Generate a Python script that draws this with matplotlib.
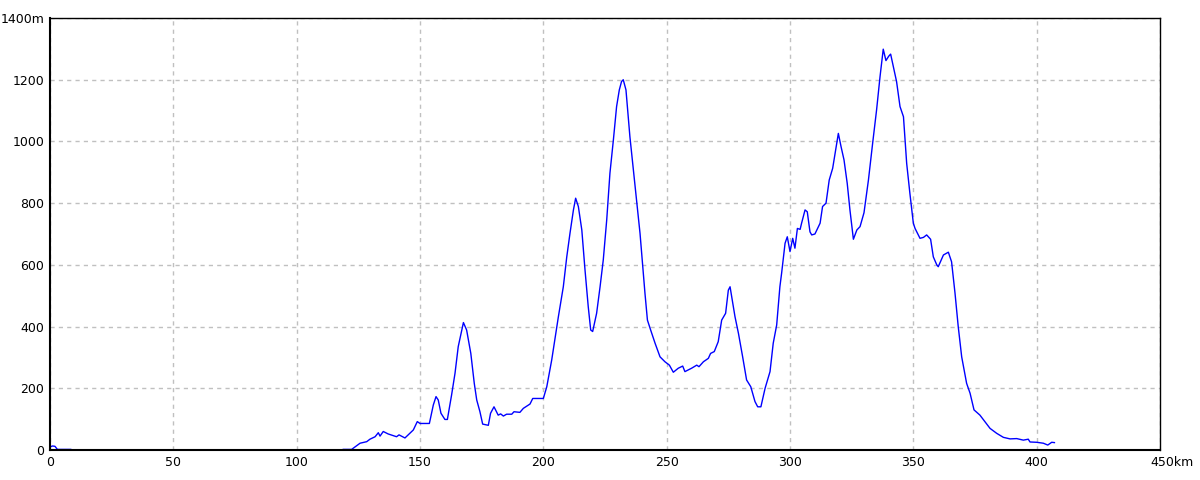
import numpy as np
import matplotlib
matplotlib.use("Agg")
import matplotlib.pyplot as plt
import matplotlib.transforms as mtransforms

# distance (km) and elevation (m); nan = no data
km = [0, 1, 2, 3, 8.4, 8.5,
      118.9, 122.3, 125.7, 128.4, 129.7, 131.8, 133.1, 133.8, 135.1, 137.1,
      140.5, 141.5, 143.9, 147.3, 148.9, 150, 153.8, 155.4, 156.5, 157.4,
      158.5, 160.1, 161.1, 162.8, 164.2, 165.5, 167.6, 168.9, 170.6, 172,
      173, 174.3, 175.4, 177.7, 178.6, 180, 181.7, 182.7, 183.8, 185.1,
      187.2, 188.1, 190.5, 191.9, 194.6, 195.7, 200, 201.4, 203.4, 206.1,
      208.1, 209.5, 210.8, 212.2, 213.1, 214.2, 215.6, 216.9, 218.2, 219.2,
      220, 221.6, 223, 224.3, 225.7, 227, 228.4, 229.7, 230.8, 231.7,
      232.4, 233.5, 235.1, 236.5, 237.8, 239.2, 240.3, 241.2, 242.2, 243.5,
      245.3, 247.3, 249.3, 251.1, 252.7, 254.7, 256.5, 257.4, 260.1, 262.2,
      263.1, 264.9, 266.9, 267.8, 269.3, 270.9, 272.3, 273.9, 275, 275.7,
      276.8, 277.7, 279.1, 280.8, 282.4, 284.1, 285.8, 286.9, 288.2, 289.9,
      291.9, 293.2, 294.6, 295.9, 296.6, 298, 298.9, 300, 301.1, 302,
      303, 304.1, 304.7, 306.1, 307, 308.1, 308.8, 310.1, 312.2, 313.2,
      314.6, 315.9, 317.3, 318.5, 319.6, 320.7, 321.9, 323.2, 324.3, 325.7,
      327.1, 328.4, 330, 331.8, 333.5, 335.1, 336.5, 337.8, 338.9, 340,
      340.8, 341.9, 343.2, 344.6, 346, 347.3, 348.6, 350, 350.7, 352.7,
      354.1, 355.4, 357, 358.1, 359.5, 360.1, 362.2, 364.2, 365.5, 366.9,
      368.2, 369.6, 371.6, 373, 374.6, 377, 379, 381.1, 383.8, 386.5,
      389.2, 391.9, 394.6, 396.6, 397.3, 400, 402.7, 404.5, 406.1, 407.2]
elev = [10, 13, 12, 2, 2, np.nan,
        2, 2, 22, 27, 35, 43, 56, 45, 60, 52,
        43, 49, 39, 65, 92, 86, 86, 146, 173, 162,
        119, 99, 99, 178, 249, 335, 413, 389, 313, 216,
        162, 124, 84, 80, 119, 140, 113, 117, 110, 116,
        116, 124, 122, 135, 149, 167, 167, 205, 292, 432,
        529, 626, 702, 778, 816, 789, 713, 583, 465, 389,
        384, 443, 529, 616, 746, 897, 1005, 1113, 1167, 1194,
        1200, 1167, 1015, 907, 810, 702, 594, 508, 421, 389,
        346, 302, 286, 275, 252, 265, 272, 254, 265, 275,
        270, 286, 297, 313, 319, 351, 421, 443, 518, 529,
        475, 432, 378, 302, 227, 205, 157, 140, 140, 200,
        254, 346, 405, 529, 573, 670, 691, 643, 686, 654,
        718, 715, 735, 778, 772, 707, 697, 700, 735, 789,
        800, 875, 913, 972, 1026, 983, 940, 864, 778, 683,
        713, 724, 769, 875, 994, 1102, 1210, 1299, 1262, 1276,
        1283, 1242, 1194, 1113, 1080, 929, 832, 735, 718, 686,
        689, 697, 683, 626, 600, 594, 632, 641, 610, 508,
        400, 302, 216, 184, 130, 113, 92, 70, 54, 41,
        36, 37, 32, 35, 26, 25, 22, 16, 25, 24]

x_ticks = [0, 50, 100, 150, 200, 250, 300, 350, 400, 450]
x_labels = ["0", "50", "100", "150", "200", "250", "300", "350", "400", "450km"]
y_ticks = [0, 200, 400, 600, 800, 1000, 1200, 1400]
y_labels = ["0", "200", "400", "600", "800", "1000", "1200", "1400m"]

fig = plt.figure(figsize=(12, 4.8), dpi=100)
ax = fig.add_axes([50 / 1200, 30 / 480, 1110 / 1200, 432 / 480])

ax.plot(km, elev, color="#0000ff", lw=1)

ax.set_xlim(0, 450)
ax.set_ylim(0, 1400)
ax.set_xticks(x_ticks)
ax.set_xticklabels(x_labels)
ax.set_yticks(y_ticks)
ax.set_yticklabels(y_labels)
ax.tick_params(length=0, labelsize=9, pad=4)

# "450km": keep the number under the tick, unit sticks out to the right
lab = ax.get_xticklabels()[-1]
lab.set_ha("left")
lab.set_transform(lab.get_transform() + mtransforms.ScaledTranslation(-10 / 100, 0, fig.dpi_scale_trans))

ax.grid(True, color="#c0c0c0", linestyle=(0, (3, 3)), lw=1)
for s in ax.spines.values():
    s.set_color("black")
    s.set_linewidth(1)
ax.spines["left"].set_linewidth(1.5)
ax.spines["bottom"].set_linewidth(1.5)

fig.savefig("out.png", dpi=100)
